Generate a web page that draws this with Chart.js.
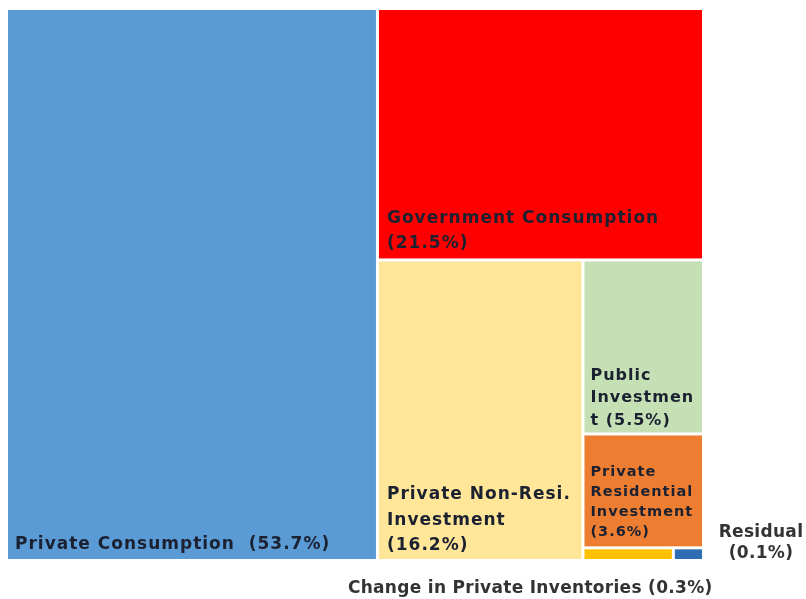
<!DOCTYPE html>
<html>
<head>
<meta charset="utf-8">
<script src="https://cdn.jsdelivr.net/npm/chart.js@4.4.1/dist/chart.umd.min.js"></script>
<style>
  html, body { margin: 0; padding: 0; background: #ffffff; }
  #wrap { width: 806px; height: 599px; }
</style>
</head>
<body>
<div id="wrap"><canvas id="c" width="806" height="599"></canvas></div>
<script>
// GDP expenditure components, share of total (%)
const categories = [
  'Private Consumption',
  'Government Consumption',
  'Private Non-Resi. Investment',
  'Public Investment',
  'Private Residential Investment',
  'Change in Private Inventories',
  'Residual'
];
const shares = [53.7, 21.5, 16.2, 5.5, 3.6, 0.3, 0.1];
const colors = ['#5B9BD5', '#FF0000', '#FFE699', '#C5E0B4', '#ED7D31', '#FFC000', '#2E6DB4'];
// label text as it is wrapped on the chart
const labelLines = [
  ['Private Consumption  (53.7%)'],
  ['Government Consumption', '(21.5%)'],
  ['Private Non-Resi.', 'Investment', '(16.2%)'],
  ['Public', 'Investmen', 't (5.5%)'],
  ['Private', 'Residential', 'Investment', '(3.6%)'],
  ['Change in Private Inventories (0.3%)'],
  ['Residual', '(0.1%)']
];
// true = label sits inside its cell, false = label sits outside
const labelInside = [true, true, true, true, true, false, false];

// squarified treemap layout, in a w x h box
function worst(row, side) {
  const s = row.reduce((a, b) => a + b, 0);
  const mx = Math.max(...row), mn = Math.min(...row);
  return Math.max(side * side * mx / (s * s), (s * s) / (side * side * mn));
}
function squarify(values, W, H) {
  const total = values.reduce((a, b) => a + b, 0);
  const areas = values.map(v => v / total * W * H);
  const rects = [];
  let x = 0, y = 0, w = W, h = H, i = 0;
  while (i < areas.length) {
    const side = Math.min(w, h);
    let row = [areas[i]], j = i + 1;
    while (j < areas.length) {
      const next = row.concat(areas[j]);
      if (worst(next, side) <= worst(row, side)) { row = next; j++; } else break;
    }
    const s = row.reduce((a, b) => a + b, 0);
    if (w >= h) {
      const cw = s / h; let cy = y;
      row.forEach(a => { const rh = a / cw; rects.push({ x0: x, y0: cy, x1: x + cw, y1: cy + rh }); cy += rh; });
      x += cw; w -= cw;
    } else {
      const rh = s / w; let cx = x;
      row.forEach(a => { const rw = a / rh; rects.push({ x0: cx, y0: y, x1: cx + rw, y1: y + rh }); cx += rw; });
      y += rh; h -= rh;
    }
    i = j;
  }
  // express the cells in axis units (0..100 on both axes)
  return rects.map(r => ({ x0: r.x0 / W * 100, x1: r.x1 / W * 100, y0: r.y0 / H * 100, y1: r.y1 / H * 100 }));
}

const FONT = '"DejaVu Sans", Verdana, sans-serif';

const treemapPlugin = {
  id: 'treemapCells',
  afterDatasetsDraw(chart) {
    const { ctx, chartArea, scales } = chart;
    const cells = squarify(shares, chartArea.width, chartArea.height);
    const gap = 1.5;
    const boxes = cells.map(c => {
      const left = scales.x.getPixelForValue(c.x0) + gap;
      const right = scales.x.getPixelForValue(c.x1) - gap;
      const top = scales.y.getPixelForValue(c.y0) + gap;
      const bottom = scales.y.getPixelForValue(c.y1) - gap;
      return { left, right, top, bottom };
    });
    ctx.save();
    boxes.forEach((b, i) => {
      ctx.fillStyle = colors[i];
      ctx.fillRect(b.left, b.top, b.right - b.left, b.bottom - b.top);
    });

    // label styling per cell: font size, line height, left pad, bottom pad
    const styles = [
      { size: 17, lh: 25, padX: 7, padB: 14 },
      { size: 17, lh: 25, padX: 8, padB: 15 },
      { size: 17, lh: 25.5, padX: 8, padB: 13 },
      { size: 16, lh: 22.5, padX: 6, padB: 12 },
      { size: 14.5, lh: 20, padX: 6, padB: 14 }
    ];
    ctx.textBaseline = 'middle';
    ctx.letterSpacing = '1px';
    boxes.forEach((b, i) => {
      if (!labelInside[i]) return;
      const st = styles[i];
      ctx.font = 'bold ' + st.size + 'px ' + FONT;
      ctx.fillStyle = '#1b2130';
      ctx.textAlign = 'left';
      const lines = labelLines[i];
      lines.forEach((t, k) => {
        const yy = b.bottom - st.padB - (lines.length - 1 - k) * st.lh;
        ctx.fillText(t, b.left + st.padX, yy);
      });
    });

    // labels for the two thin cells, set outside the plot
    ctx.fillStyle = '#333333';
    ctx.textAlign = 'center';
    ctx.letterSpacing = '0.3px';
    ctx.font = 'bold 17px ' + FONT;
    const inv = boxes[5], res = boxes[6];
    ctx.fillText(labelLines[5][0], (inv.left + res.right) / 2 - 113, inv.bottom + 30);
    labelLines[6].forEach((t, k) => {
      ctx.fillText(t, res.right + 59, res.bottom - 26 + k * 21);
    });
    ctx.restore();
  }
};

new Chart(document.getElementById('c'), {
  type: 'scatter',
  data: { datasets: [{ label: 'cells', data: [] }] },
  options: {
    responsive: false,
    animation: false,
    layout: { padding: { left: 6.5, top: 8.5, right: 102.5, bottom: 38.5 } },
    plugins: { legend: { display: false }, tooltip: { enabled: false } },
    scales: {
      x: { type: 'linear', min: 0, max: 100, display: false },
      y: { type: 'linear', min: 0, max: 100, reverse: true, display: false }
    }
  },
  plugins: [treemapPlugin]
});
</script>
</body>
</html>
